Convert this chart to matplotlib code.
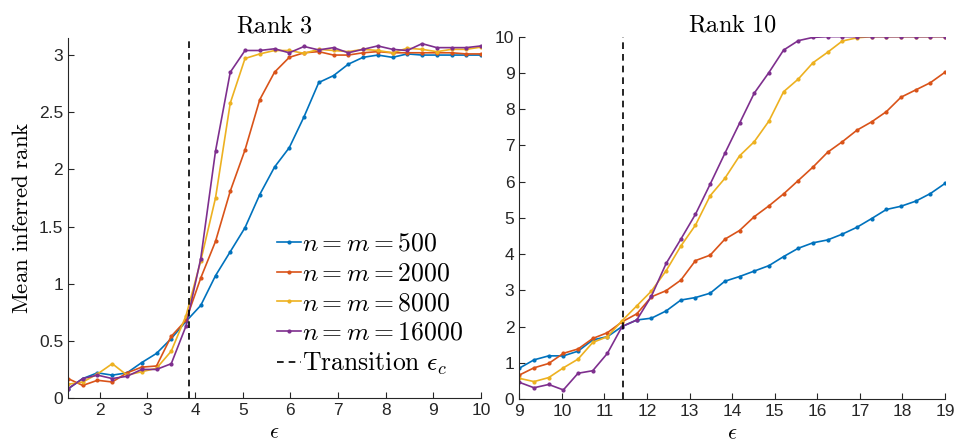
import matplotlib.pyplot as plt
import numpy as np

plt.rcParams['mathtext.fontset'] = 'cm'
plt.rcParams['font.family'] = ['Liberation Sans', 'DejaVu Sans']

# Rank 3 data
eps3 = np.linspace(4/3, 10, 29)
r3_500 = [0.08, 0.17, 0.22, 0.20, 0.22, 0.31, 0.39, 0.52, 0.67, 0.81, 1.07, 1.28, 1.49, 1.78,
          2.02, 2.19, 2.46, 2.76, 2.82, 2.92, 2.98, 3.00, 2.98, 3.01, 3.00, 3.00, 3.00, 3.00, 3.00]
r3_2000 = [0.17, 0.11, 0.155, 0.14, 0.22, 0.27, 0.28, 0.54, 0.68, 1.05, 1.37, 1.81, 2.17, 2.61,
           2.85, 2.98, 3.02, 3.03, 3.00, 3.00, 3.02, 3.03, 3.02, 3.02, 3.02, 3.02, 3.02, 3.01, 3.01]
r3_8000 = [0.12, 0.14, 0.21, 0.30, 0.20, 0.23, 0.26, 0.41, 0.72, 1.20, 1.75, 2.58, 2.97, 3.01,
           3.04, 3.04, 3.015, 3.05, 3.04, 3.03, 3.05, 3.04, 3.02, 3.06, 3.05, 3.03, 3.05, 3.05, 3.07]
r3_16000 = [0.08, 0.17, 0.20, 0.17, 0.19, 0.25, 0.25, 0.30, 0.63, 1.22, 2.16, 2.85, 3.04, 3.04,
            3.055, 3.02, 3.075, 3.045, 3.065, 3.02, 3.05, 3.08, 3.05, 3.04, 3.10, 3.065, 3.065, 3.065, 3.08]
eps_c3 = 3.87

# Rank 10 data
eps10 = np.linspace(9, 19, 30)
r10_500 = [0.85, 1.08, 1.19, 1.19, 1.32, 1.63, 1.72, 2.00, 2.18, 2.23, 2.43, 2.73, 2.80, 2.92, 3.25,
           3.38, 3.53, 3.68, 3.93, 4.16, 4.31, 4.39, 4.55, 4.74, 4.98, 5.23, 5.32, 5.46, 5.67, 5.95]
r10_2000 = [0.66, 0.86, 0.98, 1.26, 1.38, 1.67, 1.83, 2.13, 2.35, 2.82, 2.99, 3.28, 3.82, 3.97, 4.41,
            4.65, 5.03, 5.33, 5.66, 6.03, 6.40, 6.81, 7.10, 7.42, 7.65, 7.93, 8.33, 8.53, 8.73, 9.02]
r10_8000 = [0.57, 0.48, 0.59, 0.86, 1.10, 1.56, 1.72, 2.16, 2.57, 2.98, 3.54, 4.22, 4.80, 5.61, 6.09,
            6.71, 7.10, 7.67, 8.48, 8.83, 9.28, 9.57, 9.88, 9.97, 10, 10, 10, 10, 10, 10]
r10_16000 = [0.46, 0.31, 0.40, 0.25, 0.71, 0.78, 1.26, 2.00, 2.18, 2.84, 3.74, 4.41, 5.10, 5.93, 6.78,
             7.61, 8.44, 9.01, 9.63, 9.89, 9.98, 10, 10, 10, 10, 10, 10, 10, 10, 10]
eps_c10 = 11.44

labels = [r'$n = m = 500$', r'$n = m = 2000$', r'$n = m = 8000$', r'$n = m = 16000$']
colors = ['#0072BD', '#D95319', '#EDB120', '#7E2F8E']

fig = plt.figure(figsize=(9.55, 4.44), dpi=100)
ax1 = fig.add_axes([0.0712, 0.1036, 0.4325, 0.811])
ax2 = fig.add_axes([0.5438, 0.1014, 0.4458, 0.816])

for ax, eps, series, ec in [(ax1, eps3, [r3_500, r3_2000, r3_8000, r3_16000], eps_c3),
                            (ax2, eps10, [r10_500, r10_2000, r10_8000, r10_16000], eps_c10)]:
    for s, c, lab in zip(series, colors, labels):
        ax.plot(eps, s, '.-', color=c, lw=1.2, ms=4, label=lab)
    ax.axvline(ec, color='k', ls=(0, (4, 3)), lw=1.2, label=r'$\mathrm{Transition}\ \epsilon_c$')
    for side in ['top', 'right']:
        ax.spines[side].set_visible(False)
    for side in ['left', 'bottom']:
        ax.spines[side].set_color('#262626')
    ax.tick_params(direction='in', labelsize=12.5, colors='#262626', length=4)
    ax.set_xlabel(r'$\epsilon$', fontsize=16, labelpad=3)

ax1.set_xlim(4/3, 10)
ax1.set_ylim(0, 3.15)
ax1.set_xticks(range(2, 11))
ax1.set_yticks([0, 0.5, 1, 1.5, 2, 2.5, 3])
ax1.set_yticklabels(['0', '0.5', '1', '1.5', '2', '2.5', '3'])
ax1.set_title(r'$\mathrm{Rank\ 3}$', fontsize=17.5, pad=4)
ax1.set_ylabel(r'$\mathrm{Mean\ inferred\ rank}$', fontsize=16.5)
ax1.legend(loc='lower left', bbox_to_anchor=(0.48, 0.03), frameon=False, fontsize=18.5,
           handlelength=0.95, handletextpad=0.05, labelspacing=0.22, borderaxespad=0)

ax2.set_xlim(9, 19)
ax2.set_ylim(0, 10)
ax2.set_xticks(range(9, 20))
ax2.set_yticks(range(0, 11))
ax2.set_title(r'$\mathrm{Rank\ 10}$', fontsize=17.5, pad=4)

fig.savefig('out.png', dpi=100)
